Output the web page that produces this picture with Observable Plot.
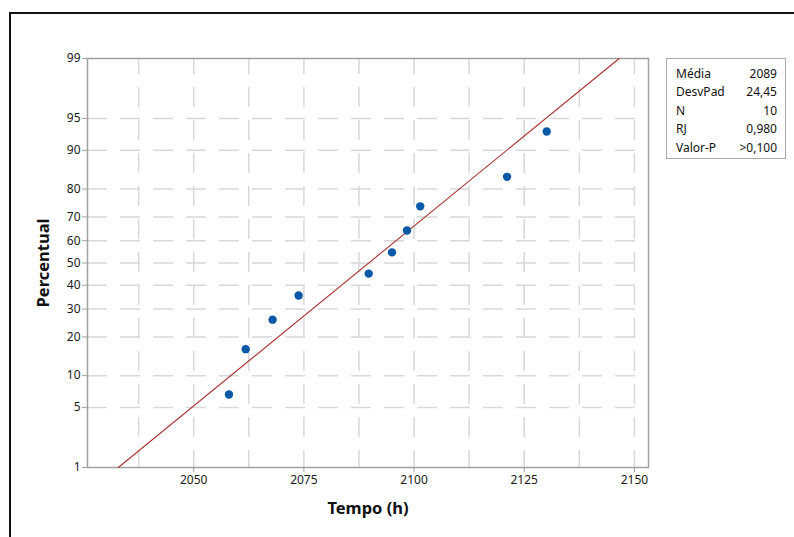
<!DOCTYPE html>
<html>
<head>
<meta charset="utf-8">
<script src="https://cdn.jsdelivr.net/npm/d3@7"></script>
<script src="https://cdn.jsdelivr.net/npm/@observablehq/plot@0.6"></script>
<style>
  html, body { margin: 0; padding: 0; background: #fff; }
  body { width: 794px; height: 537px; position: relative; overflow: hidden; font-family: "Noto Sans", sans-serif; }
  #frame { position: absolute; left: 9px; top: 12px; width: 820px; height: 560px; border: 2px solid #111; box-sizing: border-box; }
  #chart { position: absolute; left: 0; top: 0; }
  #legend { position: absolute; left: 666px; top: 58px; width: 120px; height: 101px; border: 1px solid #a8a8a8; box-sizing: border-box; padding: 6px 8px 0 9px; font-size: 12px; color: #111; }
  #legend .row { display: flex; justify-content: space-between; line-height: 18.4px; }
  g[aria-label="x-axis tick label"] text, g[aria-label="y-axis tick label"] text { fill: #1a1a1a; }
  g[aria-label="x-axis label"] text, g[aria-label="y-axis label"] text { font-size: 16.5px; font-weight: bold; fill: #111; }
</style>
</head>
<body>
<div id="frame"></div>
<div id="chart"></div>
<div id="legend"></div>
<script>
// ---- data ----
const tempo = [2058.0, 2061.8, 2067.9, 2073.8, 2089.7, 2095.0, 2098.4, 2101.4, 2121.1, 2130.1];
const percentual = [6.73, 16.35, 25.96, 35.58, 45.19, 54.81, 64.42, 74.04, 83.65, 93.27];
const xTicks = [2050, 2075, 2100, 2125, 2150];
const xGrid = [2037.5, 2050, 2062.5, 2075, 2087.5, 2100, 2112.5, 2125, 2137.5, 2150];
const yTicks = [1, 5, 10, 20, 30, 40, 50, 60, 70, 80, 90, 95, 99];
const yGrid = [5, 10, 20, 30, 40, 50, 60, 70, 80, 90, 95];
const statLabels = ["Média", "DesvPad", "N", "RJ", "Valor-P"];
const statValues = ["2089", "24,45", "10", "0,980", ">0,100"];

// inverse normal CDF (Acklam) for the probability axis
function probit(p) {
  const a = [-3.969683028665376e+01, 2.209460984245205e+02, -2.759285104469687e+02, 1.383577518672690e+02, -3.066479806614716e+01, 2.506628277459239e+00];
  const b = [-5.447609879822406e+01, 1.615858368580409e+02, -1.556989798598866e+02, 6.680131188771972e+01, -1.328068155288572e+01];
  const c = [-7.784894002430293e-03, -3.223964580411365e-01, -2.400758277161838e+00, -2.549732539343734e+00, 4.374664141464968e+00, 2.938163982698783e+00];
  const d = [7.784695709041462e-03, 3.224671290700398e-01, 2.445134137142996e+00, 3.754408661907416e+00];
  const pl = 0.02425, ph = 1 - pl;
  let q, r;
  if (p < pl) { q = Math.sqrt(-2 * Math.log(p)); return (((((c[0]*q+c[1])*q+c[2])*q+c[3])*q+c[4])*q+c[5]) / ((((d[0]*q+d[1])*q+d[2])*q+d[3])*q+1); }
  if (p <= ph) { q = p - 0.5; r = q*q; return (((((a[0]*r+a[1])*r+a[2])*r+a[3])*r+a[4])*r+a[5])*q / (((((b[0]*r+b[1])*r+b[2])*r+b[3])*r+b[4])*r+1); }
  q = Math.sqrt(-2 * Math.log(1 - p)); return -(((((c[0]*q+c[1])*q+c[2])*q+c[3])*q+c[4])*q+c[5]) / ((((d[0]*q+d[1])*q+d[2])*q+d[3])*q+1);
}
const z = pct => probit(pct / 100);

const points = tempo.map((t, i) => ({x: t, y: z(percentual[i])}));
const mean = d3.mean(tempo), sd = d3.deviation(tempo);
const fitLine = [yTicks[0], yTicks[yTicks.length - 1]].map(p => ({x: mean + z(p) * sd, y: z(p)}));
const tickLabel = new Map(yTicks.map(p => [z(p), String(p)]));

const chart = Plot.plot({
  width: 794, height: 537,
  marginLeft: 87, marginRight: 146, marginTop: 58, marginBottom: 70,
  style: {fontFamily: "'Noto Sans', sans-serif", fontSize: "12px", color: "#111", background: "transparent"},
  x: {domain: [2025.9, 2153.2]},
  y: {domain: [z(1), z(99)]},
  marks: [
    Plot.ruleX(xGrid, {stroke: "#d8d8d8", strokeWidth: 1.5, strokeDasharray: "20,13", strokeDashoffset: 4}),
    Plot.ruleY(yGrid.map(z), {stroke: "#d8d8d8", strokeWidth: 1.5, strokeDasharray: "20,13"}),
    Plot.frame({stroke: "#a0a0a0", strokeWidth: 1.5}),
    Plot.axisX(xTicks, {tickSize: 5, stroke: "#a0a0a0", tickPadding: 3, tickFormat: d => String(d), label: "Tempo (h)", labelAnchor: "center", labelArrow: "none", labelOffset: 46}),
    Plot.axisY(yTicks.map(z), {tickSize: 5, stroke: "#a0a0a0", tickPadding: 2, tickFormat: v => tickLabel.get(v), label: "Percentual", labelAnchor: "center", labelArrow: "none", labelOffset: 50}),
    Plot.line(fitLine, {x: "x", y: "y", stroke: "#a83232", strokeWidth: 1.1}),
    Plot.dot(points, {x: "x", y: "y", r: 4.2, fill: "#0a58a8", stroke: "none"})
  ]
});
document.getElementById("chart").append(chart);

const legend = document.getElementById("legend");
statLabels.forEach((lab, i) => {
  const row = document.createElement("div");
  row.className = "row";
  const a = document.createElement("span"); a.textContent = lab;
  const b = document.createElement("span"); b.textContent = statValues[i];
  row.append(a, b);
  legend.append(row);
});
</script>
</body>
</html>
